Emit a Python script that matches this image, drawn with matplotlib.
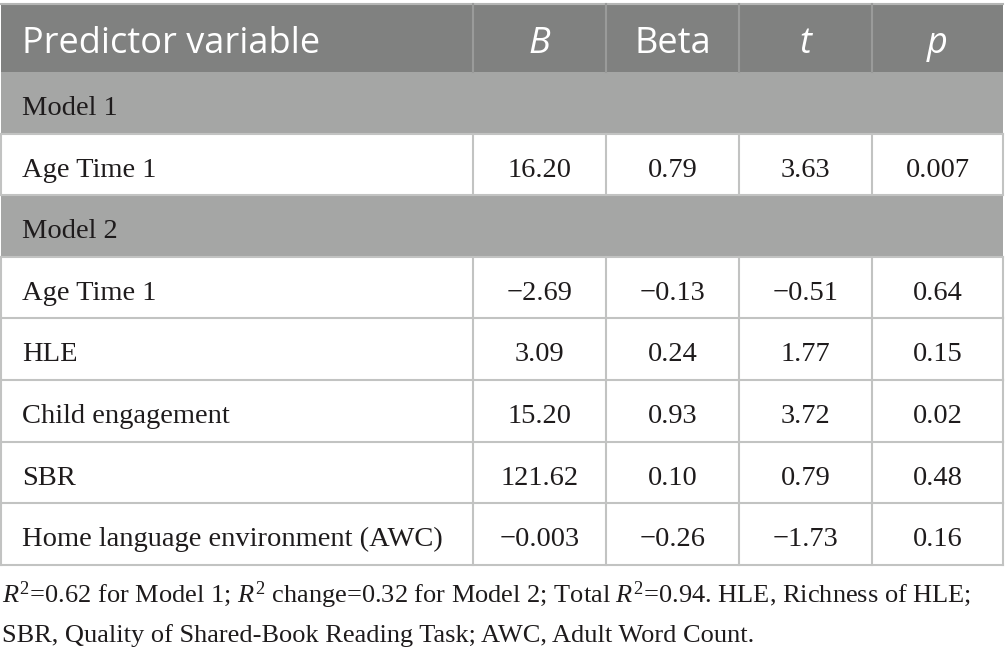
import matplotlib
matplotlib.use("Agg")
import matplotlib.pyplot as plt
from matplotlib.patches import Rectangle

# table content
col_headers = ["Predictor variable", "B", "Beta", "t", "p"]
header_italic = [False, True, False, True, True]
row_labels = ["Model 1", "Age Time 1", "Model 2", "Age Time 1", "HLE",
              "Child engagement", "SBR", "Home language environment (AWC)"]
is_group = [True, False, True, False, False, False, False, False]
B_vals = ["", "16.20", "", "\u22122.69", "3.09", "15.20", "121.62", "\u22120.003"]
beta_vals = ["", "0.79", "", "\u22120.13", "0.24", "0.93", "0.10", "\u22120.26"]
t_vals = ["", "3.63", "", "\u22120.51", "1.77", "3.72", "0.79", "\u22121.73"]
p_vals = ["", "0.007", "", "0.64", "0.15", "0.02", "0.48", "0.16"]
footnote = ["$R^2$=0.62 for Model 1; $R^2$ change=0.32 for Model 2; Total $R^2$=0.94. HLE, Richness of HLE;",
            "SBR, Quality of Shared-Book Reading Task; AWC, Adult Word Count."]

# layout (pixels)
W, H = 1005, 655
col_edges = [1, 473, 606, 739, 872, 1003]
top, header_h, row_h = 4, 68, 61.6
header_col = "#808180"
group_col = "#a5a6a5"
line_col = "#c2c3c2"
text_col = "#1e1b1c"

plt.rcParams["mathtext.fontset"] = "custom"
plt.rcParams["mathtext.rm"] = "Liberation Serif"
plt.rcParams["mathtext.it"] = "Liberation Serif:italic"

fig = plt.figure(figsize=(W / 100, H / 100), dpi=100)
ax = fig.add_axes([0, 0, 1, 1])
ax.set_xlim(0, W)
ax.set_ylim(H, 0)
ax.axis("off")

serif = "Liberation Serif"
sans = "Open Sans"

# header
ax.add_patch(Rectangle((col_edges[0], top), col_edges[-1] - col_edges[0], header_h,
                       facecolor=header_col, edgecolor="none"))
ax.plot([col_edges[0], col_edges[-1]], [top, top], color="#b5b6b5", lw=1.5)
hb = top + 49  # header baseline
for i, lab in enumerate(col_headers):
    if i == 0:
        ax.text(col_edges[0] + 21, hb, lab, color="white", fontsize=26, family=sans,
                ha="left", va="baseline")
    else:
        xc = (col_edges[i] + col_edges[i + 1]) / 2
        ax.text(xc, hb, lab, color="white", fontsize=26, family=sans,
                style="italic" if header_italic[i] else "normal", ha="center", va="baseline")
for x in col_edges[1:-1]:
    ax.plot([x, x], [top, top + header_h], color="#9a9b9a", lw=1.5)

# body rows
cols = [B_vals, beta_vals, t_vals, p_vals]
y0 = top + header_h
for r, lab in enumerate(row_labels):
    ya = y0 + r * row_h
    yb = ya + row_h
    bl = ya + 43  # text baseline
    if is_group[r]:
        ax.add_patch(Rectangle((col_edges[0], ya), col_edges[-1] - col_edges[0], row_h,
                               facecolor=group_col, edgecolor="none"))
    else:
        for x in col_edges:
            ax.plot([x, x], [ya, yb], color=line_col, lw=1.5)
        for c, vals in enumerate(cols):
            xc = (col_edges[c + 1] + col_edges[c + 2]) / 2
            ax.text(xc, bl, vals[r], color=text_col, fontsize=20.5, family=serif,
                    ha="center", va="baseline")
    ax.text(col_edges[0] + 21, bl, lab, color=text_col, fontsize=20.5, family=serif,
            ha="left", va="baseline")
    ax.plot([col_edges[0], col_edges[-1]], [yb, yb], color=line_col, lw=1.5)

# footnote
for k, line in enumerate(footnote):
    ax.text(2, 603 + k * 39, line, color=text_col, fontsize=19, family=serif,
            ha="left", va="baseline")

fig.savefig("out.png", dpi=100)
